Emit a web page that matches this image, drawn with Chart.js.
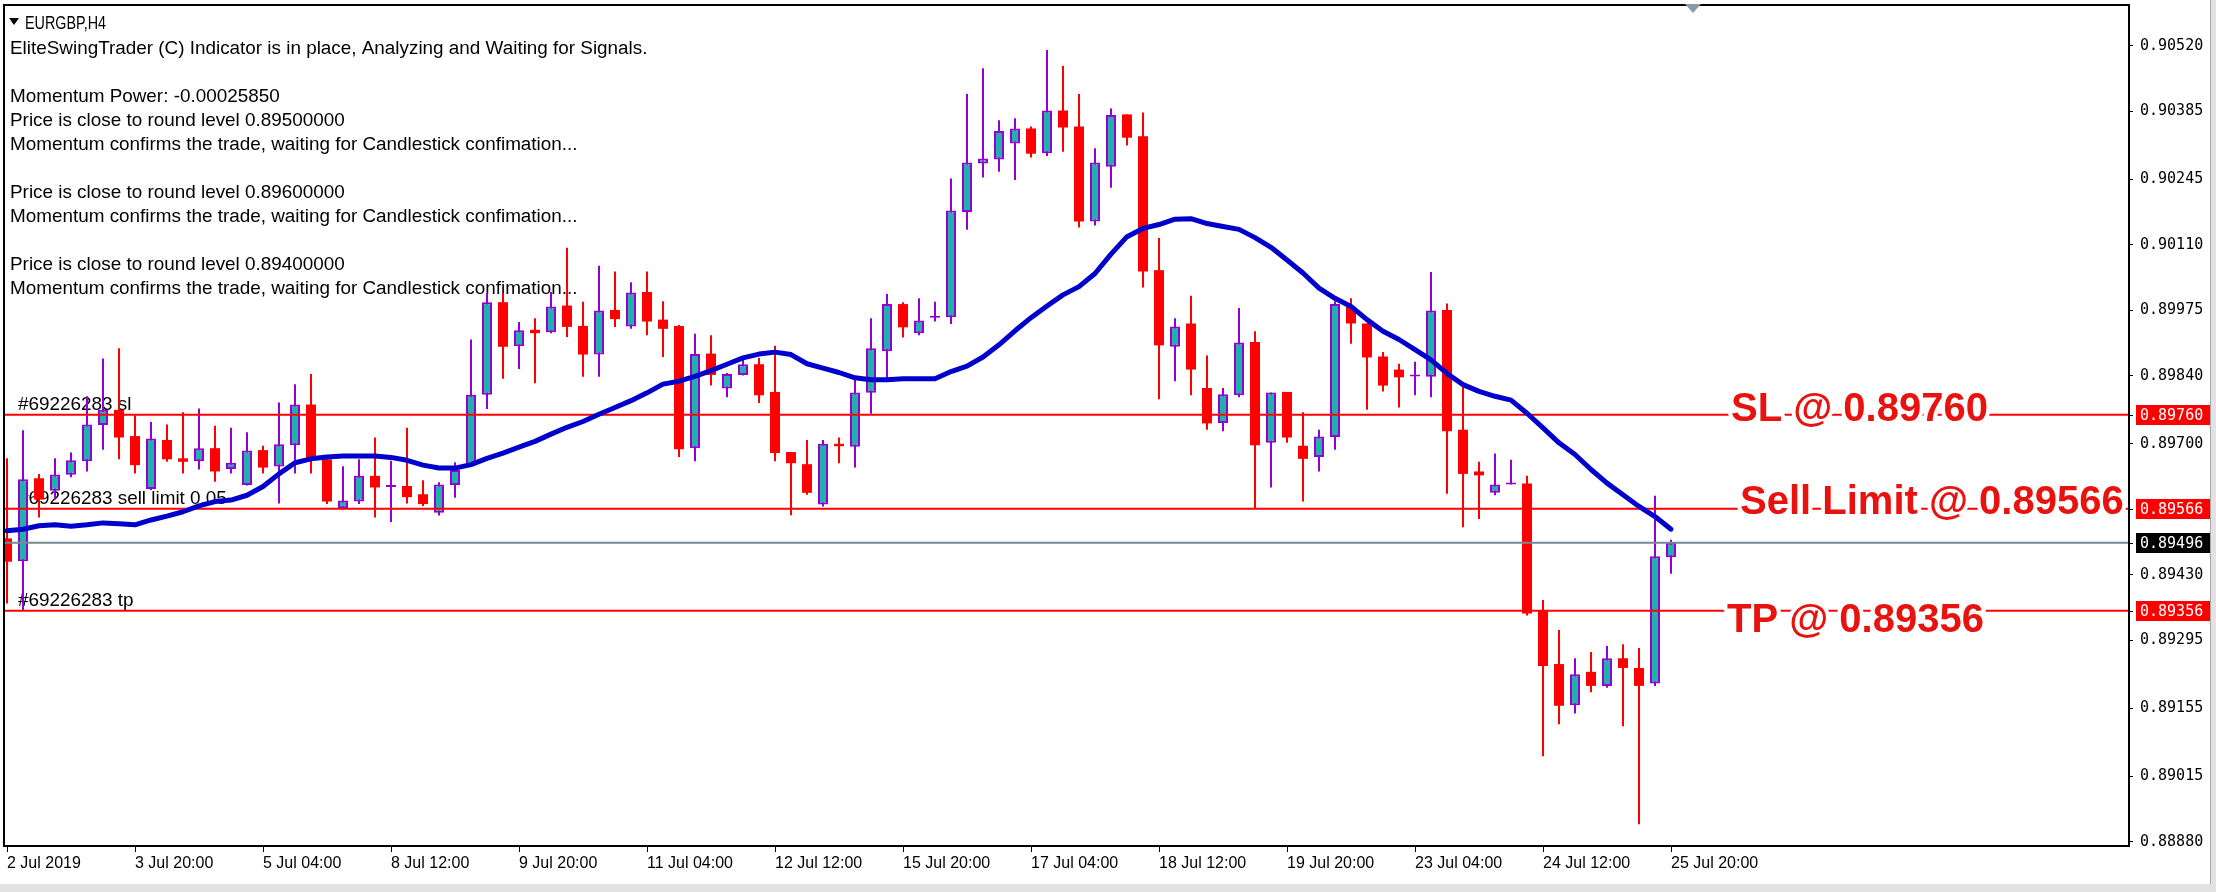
<!DOCTYPE html>
<html>
<head>
<meta charset="utf-8">
<title>EURGBP,H4</title>
<script src="https://cdn.jsdelivr.net/npm/chart.js"></script>
<style>
html,body{margin:0;padding:0;background:#fff;overflow:hidden;}
#wrap{position:relative;width:2216px;height:892px;}
canvas{display:block;}
</style>
</head>
<body>
<div id="wrap"><canvas id="chart" width="2216" height="892"></canvas></div>
<script>
// ---------------- data ----------------
const openPrices = [0.89505,0.89458,0.89629,0.89603,0.89636,0.89664,0.89739,0.89770,0.89716,0.89607,
0.89708,0.89670,0.89664,0.89691,0.89648,0.89615,0.89687,0.89653,0.89697,0.89781,
0.89668,0.89567,0.89581,0.89634,0.89611,0.89613,0.89596,0.89558,0.89615,0.89657,
0.89801,0.89992,0.89901,0.89935,0.89930,0.89985,0.89943,0.89884,0.89976,0.89942,
0.90013,0.89956,0.89943,0.89691,0.89886,0.89814,0.89842,0.89864,0.89807,0.89683,
0.89658,0.89575,0.89700,0.89694,0.89805,0.89891,0.89988,0.89928,0.89960,0.89961,
0.90178,0.90278,0.90286,0.90319,0.90350,0.90299,0.90387,0.90354,0.90158,0.90271,
0.90379,0.90334,0.90058,0.89900,0.89948,0.89815,0.89743,0.89800,0.89910,0.89702,
0.89807,0.89696,0.89673,0.89714,0.89982,0.89948,0.89880,0.89853,0.89839,0.89838,
0.89976,0.89729,0.89643,0.89599,0.89616,0.89618,0.89357,0.89246,0.89161,0.89230,
0.89201,0.89258,0.89238,0.89206,0.89466];

const highPrices = [0.89670,0.89728,0.89638,0.89670,0.89682,0.89798,0.89876,0.89897,0.89759,0.89745,
0.89740,0.89765,0.89773,0.89737,0.89733,0.89724,0.89696,0.89785,0.89823,0.89844,
0.89673,0.89654,0.89668,0.89713,0.89665,0.89733,0.89625,0.89621,0.89662,0.89915,
0.90011,0.90011,0.89951,0.89959,0.90013,0.90104,0.89993,0.90067,0.90055,0.90033,
0.90055,0.89994,0.89945,0.89927,0.89924,0.89846,0.89877,0.89877,0.89902,0.89683,
0.89708,0.89708,0.89713,0.89832,0.89959,0.90009,0.89992,0.90000,0.89993,0.90247,
0.90421,0.90474,0.90367,0.90371,0.90354,0.90512,0.90479,0.90421,0.90309,0.90391,
0.90379,0.90383,0.90124,0.89959,0.90005,0.89882,0.89815,0.89980,0.89932,0.89806,
0.89807,0.89765,0.89729,0.89994,0.90000,0.89948,0.89889,0.89865,0.89869,0.90054,
0.89989,0.89818,0.89663,0.89680,0.89667,0.89634,0.89378,0.89316,0.89258,0.89271,
0.89283,0.89287,0.89279,0.89593,0.89502];

const lowPrices = [0.89371,0.89357,0.89548,0.89585,0.89631,0.89643,0.89688,0.89668,0.89639,0.89605,
0.89663,0.89639,0.89647,0.89622,0.89639,0.89614,0.89639,0.89577,0.89639,0.89639,
0.89576,0.89565,0.89576,0.89548,0.89539,0.89577,0.89572,0.89552,0.89589,0.89653,
0.89772,0.89834,0.89854,0.89825,0.89928,0.89920,0.89838,0.89838,0.89941,0.89937,
0.89924,0.89879,0.89673,0.89664,0.89820,0.89796,0.89841,0.89784,0.89664,0.89553,
0.89595,0.89571,0.89660,0.89651,0.89762,0.89832,0.89919,0.89924,0.89952,0.89947,
0.90141,0.90249,0.90261,0.90244,0.90290,0.90293,0.90302,0.90146,0.90150,0.90228,
0.90315,0.90022,0.89792,0.89829,0.89800,0.89729,0.89726,0.89796,0.89567,0.89610,
0.89702,0.89581,0.89643,0.89688,0.89906,0.89770,0.89808,0.89775,0.89800,0.89796,
0.89597,0.89528,0.89545,0.89594,0.89616,0.89346,0.89056,0.89122,0.89144,0.89188,
0.89197,0.89118,0.88916,0.89201,0.89432];

const closePrices = [0.89457,0.89627,0.89585,0.89637,0.89666,0.89740,0.89770,0.89713,0.89656,0.89711,
0.89668,0.89663,0.89691,0.89643,0.89661,0.89686,0.89651,0.89699,0.89781,0.89668,
0.89581,0.89583,0.89634,0.89610,0.89612,0.89590,0.89576,0.89616,0.89646,0.89801,
0.89992,0.89900,0.89934,0.89928,0.89983,0.89941,0.89884,0.89975,0.89957,0.90012,
0.89952,0.89937,0.89689,0.89885,0.89842,0.89844,0.89864,0.89800,0.89681,0.89660,
0.89599,0.89700,0.89695,0.89806,0.89897,0.89988,0.89940,0.89954,0.89962,0.90181,
0.90280,0.90288,0.90345,0.90350,0.90298,0.90387,0.90352,0.90158,0.90280,0.90378,
0.90331,0.90055,0.89903,0.89942,0.89853,0.89742,0.89802,0.89909,0.89697,0.89806,
0.89713,0.89669,0.89715,0.89988,0.89948,0.89878,0.89820,0.89837,0.89840,0.89975,
0.89726,0.89638,0.89635,0.89616,0.89617,0.89350,0.89242,0.89160,0.89225,0.89201,
0.89258,0.89238,0.89201,0.89468,0.89496];

const maValues = [0.89521,0.89524,0.89531,0.89533,0.89530,0.89533,0.89537,0.89535,0.89533,0.89543,
0.89551,0.89560,0.89572,0.89581,0.89584,0.89594,0.89612,0.89638,0.89661,0.89669,
0.89673,0.89675,0.89675,0.89675,0.89672,0.89666,0.89656,0.89650,0.89650,0.89657,
0.89670,0.89681,0.89693,0.89705,0.89720,0.89734,0.89746,0.89761,0.89775,0.89789,
0.89805,0.89823,0.89829,0.89839,0.89851,0.89864,0.89877,0.89885,0.89889,0.89884,
0.89865,0.89856,0.89847,0.89836,0.89832,0.89832,0.89834,0.89834,0.89834,0.89849,
0.89860,0.89879,0.89904,0.89933,0.89960,0.89984,0.90007,0.90024,0.90051,0.90091,
0.90127,0.90144,0.90152,0.90163,0.90164,0.90154,0.90148,0.90142,0.90125,0.90105,
0.90079,0.90052,0.90021,0.90000,0.89983,0.89956,0.89932,0.89915,0.89894,0.89873,
0.89845,0.89822,0.89808,0.89798,0.89790,0.89763,0.89733,0.89702,0.89678,0.89647,
0.89619,0.89595,0.89571,0.89550,0.89524];

const xTickBars = [0,8,16,24,32,40,48,56,64,72,80,88,96,104];
const xTickLabels = ["2 Jul 2019","3 Jul 20:00","5 Jul 04:00","8 Jul 12:00","9 Jul 20:00","11 Jul 04:00",
  "12 Jul 12:00","15 Jul 20:00","17 Jul 04:00","18 Jul 12:00","19 Jul 20:00","23 Jul 04:00","24 Jul 12:00","25 Jul 20:00"];
const yTickLabels = ["0.90520","0.90385","0.90245","0.90110","0.89975","0.89840","0.89700",
  "0.89430","0.89295","0.89155","0.89015","0.88880"];

const slPrice = 0.89760;
const sellLimitPrice = 0.89566;
const tpPrice = 0.89356;
const bidPrice = 0.89496;

const chartTitle = "EURGBP,H4";
const infoLines = [
  "EliteSwingTrader (C) Indicator is in place, Analyzing and Waiting for Signals.",
  "",
  "Momentum Power: -0.00025850",
  "Price is close to round level 0.89500000",
  "Momentum confirms the trade, waiting for Candlestick confimation...",
  "",
  "Price is close to round level 0.89600000",
  "Momentum confirms the trade, waiting for Candlestick confimation...",
  "",
  "Price is close to round level 0.89400000",
  "Momentum confirms the trade, waiting for Candlestick confimation..."
];
const orderLabels = ["#69226283 sl", "#69226283 sell limit 0.05", "#69226283 tp"];
const bigLabels = ["SL @ 0.89760", "Sell Limit @ 0.89566", "TP @ 0.89356"];
const boxLabels = ["0.89760", "0.89566", "0.89496", "0.89356"];

// ---------------- styles ----------------
const BULL_FILL = '#20B2AA', BULL_LINE = '#9400D3', BEAR = '#FF0000';
const SANS = '"Liberation Sans", Arial, sans-serif';
const MONO = '"DejaVu Sans Mono", "Liberation Mono", monospace';

const isBull = closePrices.map((c, i) => c >= openPrices[i]);
const wickData = lowPrices.map((l, i) => ({x: i, y: [l, highPrices[i]]}));
const bodyData = openPrices.map((o, i) => ({x: i, y: [o, closePrices[i]]}));
const maData = maValues.map((v, i) => ({x: i, y: v}));
const hLine = p => [{x: -20, y: p}, {x: 200, y: p}];

function fitFont(ctx, text, weight, family, target) {
  ctx.font = `${weight} 20px ${family}`;
  const w = ctx.measureText(text).width;
  return 20 * target / w;
}

const backgroundPlugin = {
  id: 'bgPlugin',
  beforeDraw(chart) {
    const c = chart.ctx;
    c.save();
    c.fillStyle = '#ffffff';
    c.fillRect(0, 0, chart.width, chart.height);
    c.fillStyle = '#e2e2e2';
    c.fillRect(0, 884, chart.width, chart.height - 884);
    c.fillRect(2211, 0, chart.width - 2211, chart.height);
    c.fillStyle = '#a8a8a8';
    c.fillRect(2210, 0, 1, 884);
    c.restore();
  }
};

const underTextPlugin = {
  id: 'underText',
  beforeDatasetsDraw(chart) {
    const c = chart.ctx, ys = chart.scales.y;
    c.save();
    c.fillStyle = '#000';
    c.textBaseline = 'alphabetic';
    c.textAlign = 'left';
    const size = fitFont(c, infoLines[4], '', SANS, 568);
    c.font = `${size}px ${SANS}`;
    infoLines.forEach((t, k) => { if (t) c.fillText(t, 10, 54 + 24 * k); });
    // title, condensed like the terminal font
    c.font = `19px ${SANS}`;
    const tw = c.measureText(chartTitle).width;
    c.save();
    c.translate(25, 29);
    c.scale(81 / tw, 1);
    c.fillText(chartTitle, 0, 0);
    c.restore();
    c.beginPath();
    c.moveTo(9, 18); c.lineTo(19, 18); c.lineTo(14, 25); c.closePath();
    c.fill();
    c.font = `${size}px ${SANS}`;
    const prices = [slPrice, sellLimitPrice, tpPrice];
    orderLabels.forEach((t, k) => {
      c.fillText(t, 18, Math.round(ys.getPixelForValue(prices[k])) - 5);
    });
    c.restore();
  }
};

const overlayPlugin = {
  id: 'overlay',
  afterDraw(chart) {
    const c = chart.ctx, a = chart.chartArea, ys = chart.scales.y;
    c.save();
    // frame
    c.strokeStyle = '#000';
    c.lineWidth = 2;
    c.strokeRect(a.left, a.top, a.right - a.left, a.bottom - a.top);
    // chart shift marker
    c.fillStyle = '#8a9aae';
    c.beginPath();
    c.moveTo(1685, 4); c.lineTo(1701, 4); c.lineTo(1693, 13); c.closePath(); c.fill();
    // big red labels with white halo
    const prices = [slPrice, sellLimitPrice, tpPrice];
    const xs = [1731, 1740, 1727];
    const dy = [6, 5, 21];
    c.font = `bold 40px ${SANS}`;
    c.textBaseline = 'alphabetic';
    c.textAlign = 'left';
    c.lineJoin = 'round';
    bigLabels.forEach((t, k) => {
      const y = ys.getPixelForValue(prices[k]) + dy[k];
      c.strokeStyle = '#ffffff';
      c.lineWidth = 8;
      c.strokeText(t, xs[k], y);
      c.fillStyle = '#E8120E';
      c.fillText(t, xs[k], y);
    });
    // price boxes on the axis
    const boxPrices = [slPrice, sellLimitPrice, bidPrice, tpPrice];
    const boxColors = ['#FF0000', '#FF0000', '#000000', '#FF0000'];
    c.font = `15px ${MONO}`;
    c.textBaseline = 'middle';
    boxLabels.forEach((t, k) => {
      const y = Math.round(ys.getPixelForValue(boxPrices[k]));
      c.fillStyle = boxColors[k];
      c.fillRect(2136, y - 10, 74, 20);
      c.fillStyle = '#ffffff';
      c.fillText(t, 2140, y + 1);
      c.fillStyle = '#000';
      c.fillRect(2129, y, 4, 1);
    });
    c.restore();
  }
};

Chart.defaults.font.family = SANS;

new Chart(document.getElementById('chart').getContext('2d'), {
  type: 'bar',
  data: {
    datasets: [
      {
        type: 'bar', label: 'wicks', data: wickData,
        backgroundColor: isBull.map(b => b ? BULL_LINE : BEAR),
        borderWidth: 0, grouped: false, categoryPercentage: 1, barPercentage: 0.125,
        maxBarThickness: 2, inflateAmount: 0, order: 5
      },
      {
        type: 'bar', label: 'bodies', data: bodyData,
        backgroundColor: isBull.map(b => b ? BULL_FILL : BEAR),
        borderColor: isBull.map(b => b ? BULL_LINE : BEAR),
        borderWidth: isBull.map(b => b ? 2 : 0),
        borderSkipped: false, minBarLength: 2,
        grouped: false, categoryPercentage: 1, barPercentage: 0.625,
        maxBarThickness: 10, inflateAmount: 0, order: 4
      },
      { type: 'line', label: 'SL', data: hLine(slPrice), borderColor: '#FF0000', borderWidth: 2, pointRadius: 0, order: 3 },
      { type: 'line', label: 'Sell Limit', data: hLine(sellLimitPrice), borderColor: '#FF0000', borderWidth: 2, pointRadius: 0, order: 3 },
      { type: 'line', label: 'TP', data: hLine(tpPrice), borderColor: '#FF0000', borderWidth: 2, pointRadius: 0, order: 3 },
      { type: 'line', label: 'Bid', data: hLine(bidPrice), borderColor: '#778899', borderWidth: 2, pointRadius: 0, order: 3 },
      {
        type: 'line', label: 'MA', data: maData, borderColor: '#0000CD', borderWidth: 5,
        pointRadius: 0, tension: 0, borderJoinStyle: 'round', borderCapStyle: 'round', order: 1
      }
    ]
  },
  options: {
    responsive: false,
    animation: false,
    devicePixelRatio: 1,
    events: [],
    layout: { padding: { left: 4, top: 5, right: 0, bottom: 0 } },
    plugins: { legend: { display: false }, tooltip: { enabled: false } },
    scales: {
      x: {
        type: 'linear', position: 'bottom', min: -0.1875, max: 132.625, offset: false,
        afterBuildTicks(s) { s.ticks = xTickBars.map(v => ({ value: v })); },
        afterFit(s) { s.height = 46; s.paddingLeft = 0; s.paddingRight = 0; s.paddingTop = 0; s.paddingBottom = 0; },
        ticks: {
          autoSkip: false, maxRotation: 0, minRotation: 0, align: 'start', padding: 2,
          color: '#000', font: { family: SANS, size: 16 },
          callback: (v, i) => xTickLabels[i]
        },
        grid: { drawOnChartArea: false, drawTicks: true, tickLength: 6, color: '#000', lineWidth: 1, offset: false },
        border: { display: false }
      },
      y: {
        type: 'linear', position: 'right', min: 0.88871, max: 0.906045,
        afterBuildTicks(s) { s.ticks = yTickLabels.map(t => ({ value: parseFloat(t) })); },
        afterFit(s) { s.width = 87; s.paddingLeft = 0; s.paddingRight = 0; s.paddingTop = 0; s.paddingBottom = 0; },
        ticks: {
          autoSkip: false, padding: 7, color: '#000', font: { family: MONO, size: 15 },
          callback: (v, i) => yTickLabels[i]
        },
        grid: { drawOnChartArea: false, drawTicks: true, tickLength: 4, color: '#000', lineWidth: 1 },
        border: { display: false }
      }
    }
  },
  plugins: [backgroundPlugin, underTextPlugin, overlayPlugin]
});
</script>
</body>
</html>
